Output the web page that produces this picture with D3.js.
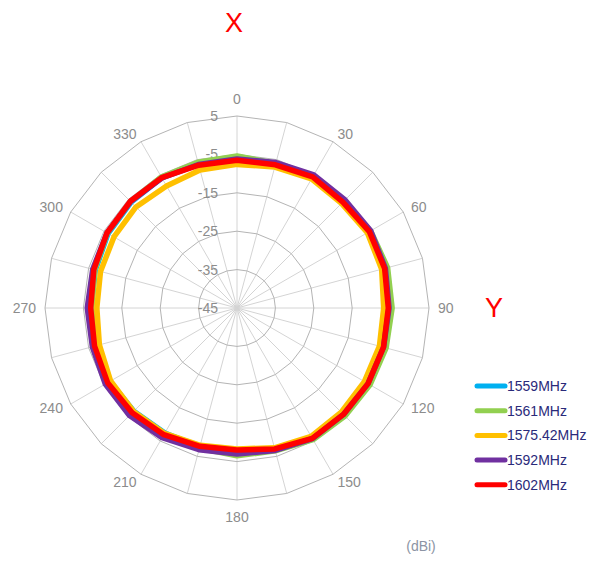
<!DOCTYPE html>
<html lang="en">
    <head>
        <meta charset="utf-8">
        <title>Radiation pattern</title>
        <script type="text/javascript" src="https://cdn.jsdelivr.net/npm/d3@7/dist/d3.min.js"></script>
        <style type="text/css">
            body { margin: 0; background: #fff; }
            text { font-family: "Liberation Sans", Arial, sans-serif; }
        </style>
    </head>
    <body>
        <script type="text/javascript">
        var angles = d3.range(0, 360, 15);
        var angleLabels = [0, 30, 60, 90, 120, 150, 180, 210, 240, 270, 300, 330];
        var radialTicks = [5, -5, -15, -25, -35, -45];
        var seriesNames = ["1559MHz", "1561MHz", "1575.42MHz", "1592MHz", "1602MHz"];
        var seriesColors = ["#00b0f0", "#92d050", "#ffc000", "#7030a0", "#ff0000"];

        // gain in dBi, one value every 15 degrees
        var s1559 = [-5.6, -6.1, -5.7, -6.1, -5.0, -4.6, -4.8, -5.0, -5.2, -5.4, -5.6, -6.7,
                     -6.8, -7.6, -7.4, -7.0, -6.8, -7.2, -7.0, -6.8, -6.2, -6.0, -5.8, -5.9];
        var s1561 = [-5.4, -6.0, -5.6, -6.0, -4.8, -4.4, -4.6, -4.8, -5.0, -5.2, -5.4, -6.5,
                     -6.5, -7.2, -7.0, -6.6, -6.5, -7.0, -7.2, -6.6, -6.0, -5.8, -5.6, -5.7];
        var s1575 = [-7.6, -7.0, -6.2, -6.5, -5.8, -6.0, -6.8, -6.6, -6.7, -6.6, -6.4, -7.3,
                     -8.3, -8.0, -7.3, -6.9, -7.0, -7.9, -8.5, -8.2, -8.0, -7.8, -8.3, -7.8];
        var s1592 = [-6.2, -5.8, -5.0, -5.2, -4.8, -5.0, -5.4, -5.5, -5.6, -5.8, -5.7, -6.6,
                     -7.0, -6.8, -6.0, -5.4, -5.4, -6.0, -6.0, -6.1, -5.9, -5.8, -5.9, -6.3];
        var s1602 = [-6.5, -6.4, -5.6, -6.0, -5.2, -5.2, -5.6, -5.5, -5.6, -5.8, -5.8, -7.0,
                     -8.0, -7.7, -6.9, -6.4, -6.1, -6.6, -6.9, -6.4, -5.9, -5.7, -5.8, -6.5];
        var seriesValues = [s1559, s1561, s1575, s1592, s1602];

        var w = 593;
        var h = 561;
        var cx = 237, cy = 308;
        var outerR = 192;
        var labelR = 201;

        var svg = d3.select("body")
                    .append("svg")
                    .attr("width", w)
                    .attr("height", h);

        var r = d3.scaleLinear().domain([-45, 5]).range([0, outerR]);
        var toRad = function(a) { return a * Math.PI / 180; };

        var g = svg.append("g").attr("transform", "translate(" + cx + "," + cy + ")");

        // spokes
        g.selectAll("line.spoke")
            .data(angles)
            .enter()
            .append("line")
            .attr("class", "spoke")
            .attr("x1", 0).attr("y1", 0)
            .attr("x2", function(d) { return outerR * Math.sin(toRad(d)); })
            .attr("y2", function(d) { return -outerR * Math.cos(toRad(d)); })
            .attr("stroke", "#d4d4d4")
            .attr("stroke-width", 1);

        // ring polygons
        var ring = d3.lineRadial()
            .angle(function(d) { return toRad(d); })
            .curve(d3.curveLinearClosed);

        g.selectAll("path.ring")
            .data(radialTicks.filter(function(t) { return t > -45; }))
            .enter()
            .append("path")
            .attr("class", "ring")
            .attr("d", function(t) { return ring.radius(r(t))(angles); })
            .attr("fill", "none")
            .attr("stroke", "#b4b4b4")
            .attr("stroke-width", 1);

        // radial tick labels
        g.selectAll("text.rtick")
            .data(radialTicks)
            .enter()
            .append("text")
            .attr("class", "rtick")
            .attr("x", -19)
            .attr("y", function(d) { return -r(d); })
            .attr("dy", "0.35em")
            .attr("text-anchor", "end")
            .attr("font-size", "14px")
            .attr("fill", "#8c8c8c")
            .text(function(d) { return d; });

        // angle labels, placed just outside the outer ring
        g.selectAll("text.alabel")
            .data(angleLabels)
            .enter()
            .append("text")
            .attr("class", "alabel")
            .attr("x", function(d) { return labelR * Math.sin(toRad(d)); })
            .attr("y", function(d) {
                var y = -labelR * Math.cos(toRad(d));
                if (d === 0) y -= 8;
                if (d === 180) y += 8;
                return y;
            })
            .attr("dy", "0.35em")
            .attr("text-anchor", function(d) {
                if (d === 0 || d === 180) return "middle";
                return d < 180 ? "start" : "end";
            })
            .attr("font-size", "14px")
            .attr("fill", "#8c8c8c")
            .text(function(d) { return d; });

        // series
        var line = d3.lineRadial()
            .angle(function(d, i) { return toRad(angles[i]); })
            .radius(function(d) { return r(d); })
            .curve(d3.curveLinearClosed);

        g.selectAll("path.series")
            .data(seriesValues)
            .enter()
            .append("path")
            .attr("class", "series")
            .attr("d", line)
            .attr("fill", "none")
            .attr("stroke", function(d, i) { return seriesColors[i]; })
            .attr("stroke-width", 5.5)
            .attr("stroke-linejoin", "round");

        // axis titles
        svg.append("text")
            .attr("x", 234).attr("y", 32)
            .attr("text-anchor", "middle")
            .attr("font-size", "27px")
            .attr("fill", "#ff0000")
            .text("X");
        svg.append("text")
            .attr("x", 494).attr("y", 317)
            .attr("text-anchor", "middle")
            .attr("font-size", "27px")
            .attr("fill", "#ff0000")
            .text("Y");
        svg.append("text")
            .attr("x", 421).attr("y", 551)
            .attr("text-anchor", "middle")
            .attr("font-size", "14px")
            .attr("fill", "#8c94a4")
            .text("(dBi)");

        // legend
        var legend = svg.selectAll("g.legend")
            .data(seriesNames)
            .enter()
            .append("g")
            .attr("class", "legend")
            .attr("transform", function(d, i) { return "translate(476," + (386 + i * 24.7) + ")"; });
        legend.append("line")
            .attr("x1", 1).attr("x2", 29)
            .attr("y1", 0).attr("y2", 0)
            .attr("stroke", function(d, i) { return seriesColors[i]; })
            .attr("stroke-width", 5)
            .attr("stroke-linecap", "round");
        legend.append("text")
            .attr("x", 31)
            .attr("dy", "0.35em")
            .attr("font-size", "14px")
            .attr("fill", "#2a2a7a")
            .text(function(d) { return d; });
        </script>
    </body>
</html>
